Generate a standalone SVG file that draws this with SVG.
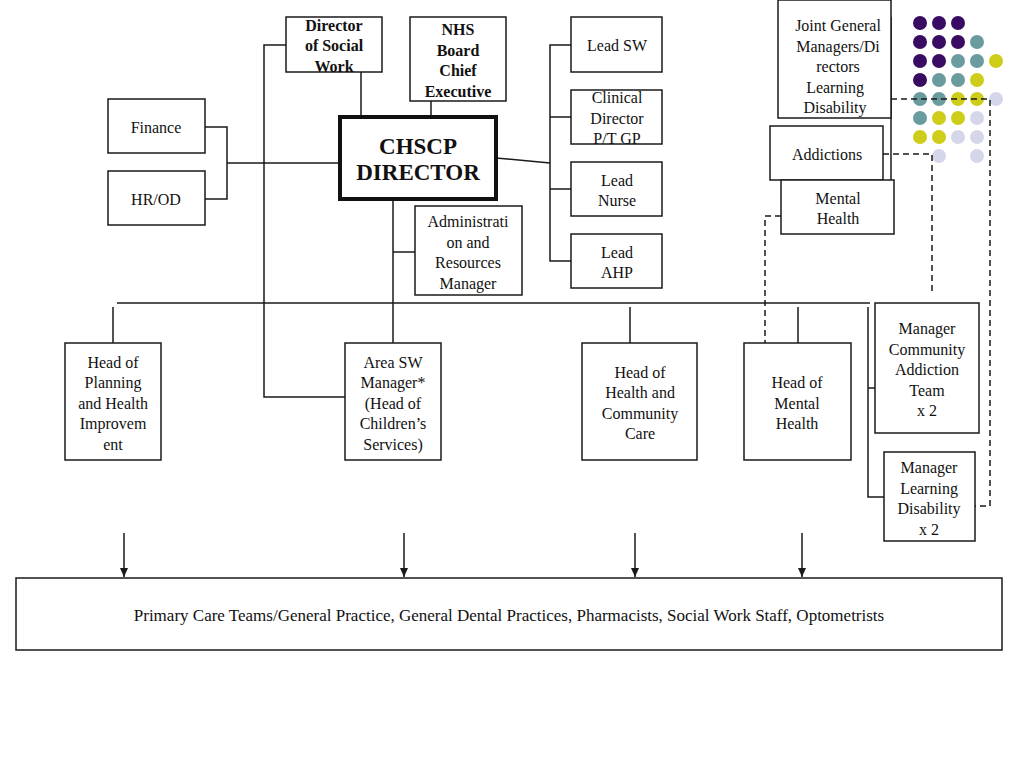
<svg xmlns="http://www.w3.org/2000/svg" width="1024" height="768" viewBox="0 0 1024 768">
<defs>
<style>
.box{fill:#fff;stroke:#1a1a1a;stroke-width:1.5}
.t{font-family:"Liberation Serif","Times New Roman",serif;font-size:16px;fill:#111;text-anchor:middle}
.b{font-weight:bold}
.big{font-size:23px}
.wide{font-size:17px}
.c{fill:none;stroke:#1a1a1a;stroke-width:1.5}
.d{fill:none;stroke:#1a1a1a;stroke-width:1.5;stroke-dasharray:6 4}
.p{fill:#3a0b62}.g{fill:#6a9c9f}.y{fill:#cdcd1a}.l{fill:#d6d6ea}
</style>
<marker id="arr" markerWidth="10" markerHeight="10" refX="9" refY="5" orient="auto" markerUnits="userSpaceOnUse">
<path d="M0,1 L9,5 L0,9 Z" fill="#1a1a1a"/>
</marker>
</defs>
<rect width="1024" height="768" fill="#fff"/>

<g id="dots">
<circle class="p" cx="920" cy="23" r="7"/><circle class="p" cx="939" cy="23" r="7"/><circle class="p" cx="958" cy="23" r="7"/>
<circle class="p" cx="920" cy="42" r="7"/><circle class="p" cx="939" cy="42" r="7"/><circle class="p" cx="958" cy="42" r="7"/><circle class="g" cx="977" cy="42" r="7"/>
<circle class="p" cx="920" cy="61" r="7"/><circle class="p" cx="939" cy="61" r="7"/><circle class="g" cx="958" cy="61" r="7"/><circle class="g" cx="977" cy="61" r="7"/><circle class="y" cx="996" cy="61" r="7"/>
<circle class="p" cx="920" cy="80" r="7"/><circle class="g" cx="939" cy="80" r="7"/><circle class="g" cx="958" cy="80" r="7"/><circle class="y" cx="977" cy="80" r="7"/>
<circle class="g" cx="920" cy="99" r="7"/><circle class="g" cx="939" cy="99" r="7"/><circle class="y" cx="958" cy="99" r="7"/><circle class="y" cx="977" cy="99" r="7"/><circle class="l" cx="996" cy="99" r="7"/>
<circle class="g" cx="920" cy="118" r="7"/><circle class="y" cx="939" cy="118" r="7"/><circle class="y" cx="958" cy="118" r="7"/><circle class="l" cx="977" cy="118" r="7"/>
<circle class="y" cx="920" cy="137" r="7"/><circle class="y" cx="939" cy="137" r="7"/><circle class="l" cx="958" cy="137" r="7"/><circle class="l" cx="977" cy="137" r="7"/>
<circle class="l" cx="939" cy="156" r="7"/><circle class="l" cx="977" cy="156" r="7"/>
</g>

<g id="connectors">
<path class="c" d="M117,303 H870"/>
<path class="c" d="M113,307 V343"/>
<path class="c" d="M393,199 V343"/>
<path class="c" d="M393,252 H415"/>
<path class="c" d="M630,307 V343"/>
<path class="c" d="M798,307 V343"/>
<path class="c" d="M868,307 V497 H884"/>
<path class="c" d="M868,388 H884"/>
<path class="c" d="M286,45 H264 V397 H345"/>
<path class="c" d="M361,72 V117"/>
<path class="c" d="M431,101 V117"/>
<path class="c" d="M205,127 H227 V199 H205"/>
<path class="c" d="M227,163 H340"/>
<path class="c" d="M496,158 L550,163"/>
<path class="c" d="M571,45 H550 V261 H571"/>
<path class="c" d="M550,117 H571"/>
<path class="c" d="M550,189 H571"/>
<path class="c" d="M891,17 V187"/>
<path class="d" d="M781,216 H765 V343"/>
<path class="d" d="M891,99 H990 V506 H975"/>
<path class="d" d="M883,154 H932 V293"/>
<path class="c" d="M124,533 V577" marker-end="url(#arr)"/>
<path class="c" d="M404,533 V577" marker-end="url(#arr)"/>
<path class="c" d="M635,533 V577" marker-end="url(#arr)"/>
<path class="c" d="M802,533 V577" marker-end="url(#arr)"/>
</g>

<g id="director-social-work">
<rect class="box" x="286" y="17" width="96" height="55"/>
<text class="t b" x="334" y="31">Director</text>
<text class="t b" x="334" y="51">of Social</text>
<text class="t b" x="334" y="72">Work</text>
</g>
<g id="nhs-board">
<rect class="box" x="410" y="17" width="96" height="84"/>
<text class="t b" x="458" y="35">NHS</text>
<text class="t b" x="458" y="56">Board</text>
<text class="t b" x="458" y="76">Chief</text>
<text class="t b" x="458" y="97">Executive</text>
</g>
<g id="chscp-director">
<rect x="340" y="117" width="156" height="82" fill="#fff" stroke="#111" stroke-width="4"/>
<text class="t b big" x="418" y="154">CHSCP</text>
<text class="t b big" x="418" y="180">DIRECTOR</text>
</g>
<g id="lead-sw">
<rect class="box" x="571" y="17" width="91" height="55"/>
<text class="t" x="617" y="51">Lead SW</text>
</g>
<g id="clinical-director">
<rect class="box" x="571" y="90" width="91" height="54"/>
<text class="t" x="617" y="103">Clinical</text>
<text class="t" x="617" y="124">Director</text>
<text class="t" x="617" y="144">P/T GP</text>
</g>
<g id="lead-nurse">
<rect class="box" x="571" y="162" width="91" height="54"/>
<text class="t" x="617" y="186">Lead</text>
<text class="t" x="617" y="206">Nurse</text>
</g>
<g id="lead-ahp">
<rect class="box" x="571" y="234" width="91" height="54"/>
<text class="t" x="617" y="258">Lead</text>
<text class="t" x="617" y="278">AHP</text>
</g>
<g id="finance">
<rect class="box" x="108" y="99" width="97" height="54"/>
<text class="t" x="156" y="133">Finance</text>
</g>
<g id="hr-od">
<rect class="box" x="108" y="171" width="97" height="54"/>
<text class="t" x="156" y="205">HR/OD</text>
</g>
<g id="admin">
<rect class="box" x="415" y="206" width="107" height="89"/>
<text class="t" x="468" y="227">Administrati</text>
<text class="t" x="468" y="248">on and</text>
<text class="t" x="468" y="268">Resources</text>
<text class="t" x="468" y="289">Manager</text>
</g>
<g id="joint-gm">
<rect class="box" x="778" y="0" width="113" height="118"/>
<text class="t" x="838" y="31">Joint General</text>
<text class="t" x="838" y="52">Managers/Di</text>
<text class="t" x="838" y="72">rectors</text>
<text class="t" x="835" y="93">Learning</text>
<text class="t" x="835" y="113">Disability</text>
</g>
<g id="addictions">
<rect class="box" x="770" y="126" width="113" height="54"/>
<text class="t" x="827" y="160">Addictions</text>
</g>
<g id="mental-health">
<rect class="box" x="781" y="180" width="113" height="54"/>
<text class="t" x="838" y="204">Mental</text>
<text class="t" x="838" y="224">Health</text>
</g>
<g id="head-planning">
<rect class="box" x="65" y="343" width="96" height="117"/>
<text class="t" x="113" y="368">Head of</text>
<text class="t" x="113" y="388">Planning</text>
<text class="t" x="113" y="409">and Health</text>
<text class="t" x="113" y="429">Improvem</text>
<text class="t" x="113" y="450">ent</text>
</g>
<g id="area-sw">
<rect class="box" x="345" y="343" width="96" height="117"/>
<text class="t" x="393" y="368">Area SW</text>
<text class="t" x="393" y="388">Manager*</text>
<text class="t" x="393" y="409">(Head of</text>
<text class="t" x="393" y="429">Children’s</text>
<text class="t" x="393" y="450">Services)</text>
</g>
<g id="head-hcc">
<rect class="box" x="582" y="343" width="115" height="117"/>
<text class="t" x="640" y="378">Head of</text>
<text class="t" x="640" y="398">Health and</text>
<text class="t" x="640" y="419">Community</text>
<text class="t" x="640" y="439">Care</text>
</g>
<g id="head-mh">
<rect class="box" x="744" y="343" width="107" height="117"/>
<text class="t" x="797" y="388">Head of</text>
<text class="t" x="797" y="409">Mental</text>
<text class="t" x="797" y="429">Health</text>
</g>
<g id="manager-cat">
<rect class="box" x="875" y="303" width="104" height="130"/>
<text class="t" x="927" y="334">Manager</text>
<text class="t" x="927" y="355">Community</text>
<text class="t" x="927" y="375">Addiction</text>
<text class="t" x="927" y="396">Team</text>
<text class="t" x="927" y="416">x 2</text>
</g>
<g id="manager-ld">
<rect class="box" x="884" y="452" width="91" height="89"/>
<text class="t" x="929" y="473">Manager</text>
<text class="t" x="929" y="494">Learning</text>
<text class="t" x="929" y="514">Disability</text>
<text class="t" x="929" y="535">x 2</text>
</g>
<g id="primary-care">
<rect class="box" x="16" y="578" width="986" height="72"/>
<text class="t wide" x="509" y="621">Primary Care Teams/General Practice, General Dental Practices, Pharmacists, Social Work Staff, Optometrists</text>
</g>
</svg>
